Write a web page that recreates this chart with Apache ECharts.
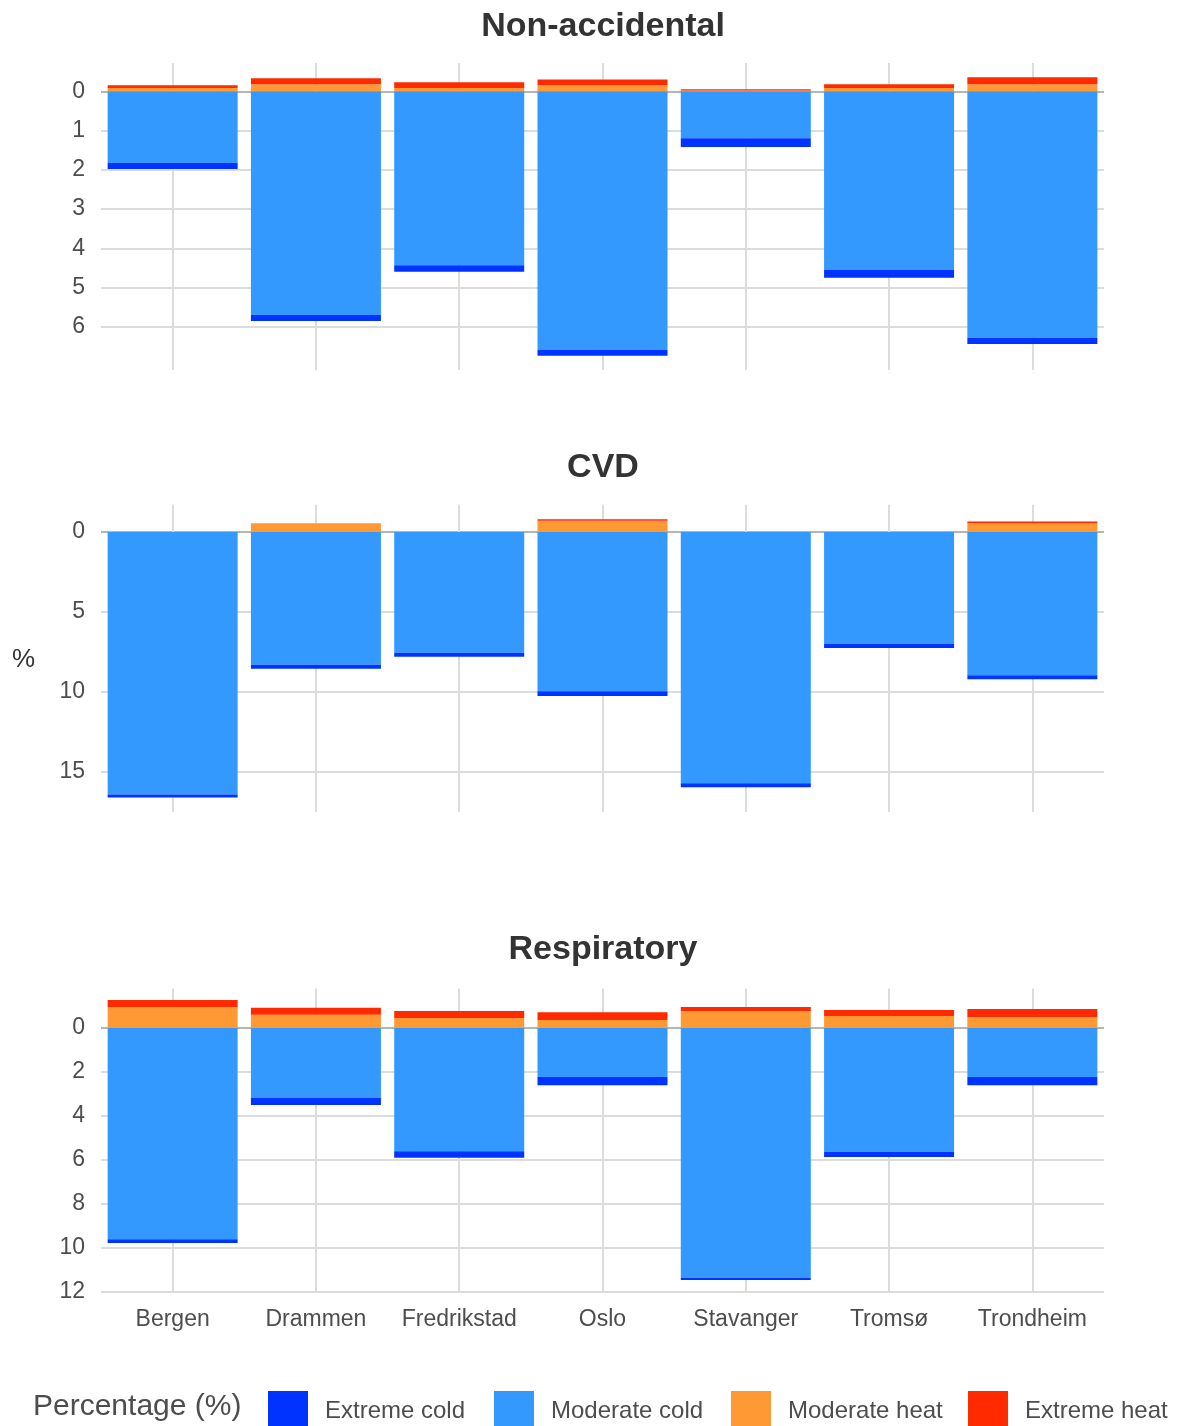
<!DOCTYPE html>
<html><head><meta charset="utf-8">
<script src="https://cdn.jsdelivr.net/npm/echarts@6/dist/echarts.min.js"></script>
<style>html,body{margin:0;padding:0;background:#fff}#c{width:1179px;height:1426px}</style>
</head><body><div id="c"></div>
<script>
const cities = ['Bergen','Drammen','Fredrikstad','Oslo','Stavanger','Tromsø','Trondheim'];
const panelTitles = ['Non-accidental','CVD','Respiratory'];
// Panel 1: Non-accidental
const naModCold = [1.83,5.70,4.43,6.59,1.20,4.55,6.28];
const naExtCold = [0.15,0.15,0.17,0.15,0.22,0.20,0.16];
const naModHeat = [0.08,0.18,0.08,0.15,0.02,0.08,0.18];
const naExtHeat = [0.07,0.15,0.15,0.15,0.03,0.10,0.18];
// Panel 2: CVD
const cvdModCold = [16.4,8.3,7.55,9.95,15.7,7.0,8.95];
const cvdExtCold = [0.2,0.25,0.25,0.3,0.25,0.25,0.25];
const cvdModHeat = [0,0.55,0,0.7,0,0,0.55];
const cvdExtHeat = [0,0,0,0.1,0,0,0.1];
// Panel 3: Respiratory
const resModCold = [9.6,3.18,5.6,2.23,11.36,5.64,2.23];
const resExtCold = [0.17,0.32,0.3,0.37,0.1,0.22,0.37];
const resModHeat = [0.95,0.6,0.45,0.36,0.77,0.55,0.5];
const resExtHeat = [0.32,0.32,0.32,0.36,0.18,0.27,0.36];
// Tick labels
const ticks1 = [0,1,2,3,4,5,6];
const ticks2 = [0,5,10,15];
const ticks3 = [0,2,4,6,8,10,12];
const legendNames = ['Extreme cold','Moderate cold','Moderate heat','Extreme heat'];

const colors = {'Extreme cold':'#0033FF','Moderate cold':'#3399FF','Moderate heat':'#FF9933','Extreme heat':'#FF2A00'};
const panels = [
  {mc:naModCold, ec:naExtCold, mh:naModHeat, eh:naExtHeat, ticks:ticks1, min:-1, max:7.1, interval:1, top:52, height:318, vTop:-0.72, titleY:27},
  {mc:cvdModCold, ec:cvdExtCold, mh:cvdModHeat, eh:cvdExtHeat, ticks:ticks2, min:-5, max:17.5, interval:5, top:452, height:360, vTop:-1.7, titleY:468},
  {mc:resModCold, ec:resExtCold, mh:resModHeat, eh:resExtHeat, ticks:ticks3, min:-2, max:12, interval:2, top:984, height:308, vTop:-1.8, titleY:950}
];
const grids=[], xAxes=[], yAxes=[], series=[], graphics=[];
panels.forEach((p,i)=>{
  grids.push({left:101, width:1003, top:p.top, height:p.height});
  graphics.push({type:'text', x:603, y:p.titleY, style:{text:panelTitles[i], align:'center', verticalAlign:'middle', fontSize:34, fontWeight:'bold', fill:'#333', fontFamily:'Liberation Sans'}});
  xAxes.push({type:'category', gridIndex:i, data:cities, axisLine:{show:false}, axisTick:{show:false}, splitLine:{show:false},
    axisLabel:{show:i===2, interval:0, fontSize:23, color:'#4d4d4d', margin:16, fontFamily:'Liberation Sans'}});
  yAxes.push({type:'value', gridIndex:i, inverse:true, min:p.min, max:p.max, interval:p.interval,
    axisLine:{show:false}, axisTick:{show:false}, splitLine:{show:false},
    axisLabel:{fontSize:23, color:'#4d4d4d', margin:16, fontFamily:'Liberation Sans', formatter:v=>p.ticks.includes(v)?String(v):''}});
  const lines=[];
  p.ticks.forEach(t=>lines.push({yAxis:t, lineStyle:{color:t===0?'#b5b5b5':'#dcdcdc', width:2}}));
  const vmax = Math.max(p.max, p.ticks[p.ticks.length-1]);
  cities.forEach(c=>lines.push([{coord:[c,p.vTop]},{coord:[c,vmax]}]));
  series.push({type:'line', xAxisIndex:i, yAxisIndex:i, data:[], z:0, zlevel:0, silent:true,
    markLine:{silent:true, z:0, symbol:'none', label:{show:false}, lineStyle:{color:'#dcdcdc', width:2, type:'solid'}, data:lines}});
  const mk=(name,arr,neg)=>({name, type:'bar', xAxisIndex:i, yAxisIndex:i, stack:'s'+i, barWidth:130, z:3,
    itemStyle:{color:colors[name]}, data:arr.map(v=>neg?-v:v)});
  series.push(mk('Moderate cold',p.mc,false));
  series.push(mk('Extreme cold',p.ec,false));
  series.push(mk('Moderate heat',p.mh,true));
  series.push(mk('Extreme heat',p.eh,true));
});
const legendLefts=[263,489,726,963];
const legends = legendNames.map((n,k)=>({data:[n], left:legendLefts[k], top:1386, itemWidth:40, itemHeight:40, icon:'rect',
  textStyle:{fontSize:24, color:'#4d4d4d', fontFamily:'Liberation Sans', padding:[0,0,0,12]}}));
graphics.push({type:'text', left:33, top:1392, style:{text:'Percentage (%)', fontSize:30, fill:'#4d4d4d', fontFamily:'Liberation Sans'}});
graphics.push({type:'text', left:12, top:647, style:{text:'%', fontSize:26, fill:'#333', fontFamily:'Liberation Sans'}});
const chart = echarts.init(document.getElementById('c'));
chart.setOption({
  animation:false,
  grid:grids, xAxis:xAxes, yAxis:yAxes, series:series,
  legend:legends,
  graphic:graphics
});
</script></body></html>
